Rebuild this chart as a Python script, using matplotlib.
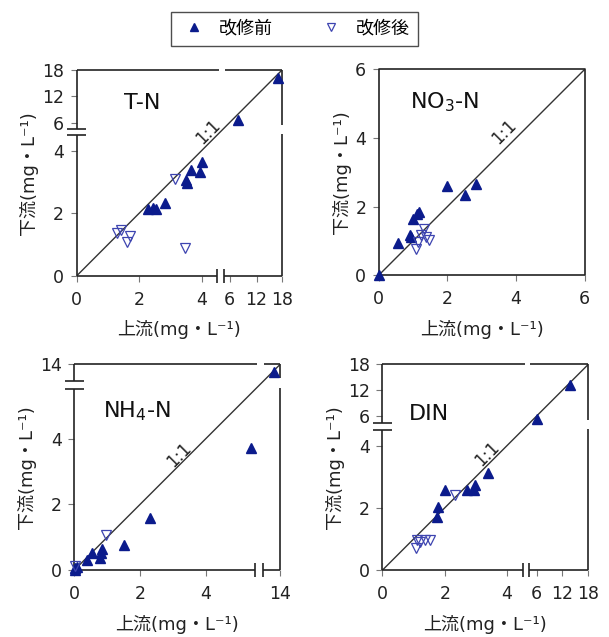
import numpy as np
import matplotlib
matplotlib.use("Agg")
import matplotlib.pyplot as plt
from matplotlib.lines import Line2D

plt.rcParams['font.family'] = ['DejaVu Sans', 'Noto Sans CJK JP']

# --- data (upstream, downstream) in mg/L ---
tn_before_x = [2.30, 2.45, 2.55, 2.84, 3.49, 3.55, 3.65, 3.96, 4.00, 7.9, 17.0]
tn_before_y = [2.15, 2.17, 2.15, 2.32, 3.06, 2.96, 3.37, 3.31, 3.63, 6.6, 16.2]
tn_after_x = [1.30, 1.43, 1.60, 1.70, 3.16, 3.47]
tn_after_y = [1.38, 1.46, 1.08, 1.27, 3.10, 0.89]

no3_before_x = [0.0, 0.56, 0.90, 0.95, 1.00, 1.11, 1.17, 2.00, 2.52, 2.84]
no3_before_y = [0.0, 0.95, 1.17, 1.12, 1.65, 1.77, 1.84, 2.60, 2.33, 2.67]
no3_after_x = [1.08, 1.14, 1.31, 1.39, 1.46, 1.24]
no3_after_y = [0.75, 0.97, 1.36, 1.12, 1.02, 1.17]

nh4_before_x = [0.02, 0.02, 0.07, 0.38, 0.53, 0.78, 0.81, 0.83, 1.51, 2.30, 5.36, 13.65]
nh4_before_y = [0.0, 0.05, 0.10, 0.32, 0.51, 0.36, 0.51, 0.63, 0.76, 1.57, 3.71, 13.55]
nh4_after_x = [0.02, 0.96]
nh4_after_y = [0.12, 1.07]

din_before_x = [1.74, 1.78, 2.00, 2.72, 2.93, 2.96, 3.39, 6.2, 13.7]
din_before_y = [1.71, 2.03, 2.57, 2.57, 2.57, 2.73, 3.12, 5.7, 13.2]
din_after_x = [1.11, 1.09, 1.22, 1.38, 1.54, 2.33]
din_after_y = [0.98, 0.70, 0.91, 0.98, 0.96, 2.41]

titles = ['T-N', r'NO$_3$-N', r'NH$_4$-N', 'DIN']
ticks_tn = [0, 2, 4, 6, 12, 18]
ticks_no3 = [0, 2, 4, 6]
ticks_nh4 = [0, 2, 4, 14]
ticks_din = [0, 2, 4, 6, 12, 18]
legend_labels = ['改修前', '改修後']

# broken-axis mappings: data value -> axes fraction
knots_tn = ([0, 4.5, 6, 12, 18], [0, 0.684, 0.745, 0.876, 1.0])
knots_no3 = ([0, 6], [0, 1.0])
knots_nh4 = ([0, 5.5, 13, 14], [0, 0.879, 0.918, 1.0])
knots_din = ([0, 4.5, 6, 12, 18], [0, 0.681, 0.749, 0.873, 1.0])

FILL = '#0b1b8c'
OPEN = '#3d44b0'

fig = plt.figure(figsize=(6.09, 6.37), dpi=100)

panels = [
    ([0.126, 0.567, 0.337, 0.323], knots_tn, ticks_tn, (tn_before_x, tn_before_y, tn_after_x, tn_after_y),
     (0.684, 0.716), (0.23, 0.84), (0.64, 0.70)),
    ([0.622, 0.568, 0.338, 0.323], knots_no3, ticks_no3, (no3_before_x, no3_before_y, no3_after_x, no3_after_y),
     None, (0.15, 0.84), (0.61, 0.695)),
    ([0.122, 0.105, 0.338, 0.323], knots_nh4, ticks_nh4, (nh4_before_x, nh4_before_y, nh4_after_x, nh4_after_y),
     (0.878, 0.918), (0.14, 0.77), (0.51, 0.56)),
    ([0.628, 0.105, 0.338, 0.323], knots_din, ticks_din, (din_before_x, din_before_y, din_after_x, din_after_y),
     (0.681, 0.714), (0.13, 0.76), (0.51, 0.566)),
]

for i, (rect, knots, ticks, dat, brk, tpos, lpos) in enumerate(panels):
    ax = fig.add_axes(rect)
    kd, kf = knots

    def fwd(v, kd=kd, kf=kf):
        return np.interp(v, kd, kf)

    def inv(v, kd=kd, kf=kf):
        return np.interp(v, kf, kd)

    ax.set_xscale('function', functions=(fwd, inv))
    ax.set_yscale('function', functions=(fwd, inv))
    top = kd[-1]
    ax.set_xlim(0, top)
    ax.set_ylim(0, top)

    # 1:1 line
    ax.plot([0, top], [0, top], color='#333333', lw=1.0, zorder=2)
    bx, by, axx, ayy = dat
    ax.plot(bx, by, linestyle='none', marker='^', ms=7.5, color=FILL, zorder=3, clip_on=False)
    ax.plot(axx, ayy, linestyle='none', marker='v', ms=7.5, mfc='none', mec=OPEN, mew=0.9,
            zorder=3, clip_on=False)

    ax.set_xticks(ticks)
    ax.set_yticks(ticks)
    ax.set_xticklabels([str(t) for t in ticks])
    ax.set_yticklabels([str(t) for t in ticks])
    ax.minorticks_off()
    ax.tick_params(direction='out', length=4, width=0.8, color='#777777', labelsize=12.5,
                   labelcolor='#222222')
    ax.tick_params(axis='x', pad=7)
    ax.tick_params(axis='y', pad=5)

    for s in ax.spines.values():
        s.set_visible(False)
    lk = dict(color='#222222', lw=1.2, transform=ax.transAxes, clip_on=False, solid_capstyle='butt')
    if brk is None:
        ax.plot([0, 1, 1, 0, 0], [0, 0, 1, 1, 0], **lk)
    else:
        b1, b2 = brk
        # bottom and left spines with break marks
        ax.plot([0, b1], [0, 0], **lk)
        ax.plot([b2, 1], [0, 0], **lk)
        ax.plot([0, 0], [0, b1], **lk)
        ax.plot([0, 0], [b2, 1], **lk)
        for b in brk:
            ax.plot([b, b], [-0.035, 0.035], **lk)
            ax.plot([-0.045, 0.045], [b, b], **lk)
        # top and right spines with gaps
        ax.plot([0, b1 + 0.01], [1, 1], **lk)
        ax.plot([b2 + 0.005, 1], [1, 1], **lk)
        ax.plot([1, 1], [0, b1 + 0.005], **lk)
        ax.plot([1, 1], [b2 + 0.015, 1], **lk)

    ax.text(tpos[0], tpos[1], titles[i], transform=ax.transAxes, fontsize=16,
            ha='left', va='center', color='#111111')
    ax.text(lpos[0], lpos[1], '1:1', transform=ax.transAxes, fontsize=12, rotation=45,
            ha='center', va='center', rotation_mode='anchor', color='#222222')
    ax.set_xlabel('上流(mg・L⁻¹)', fontsize=13, color='#222222', labelpad=8)
    ax.set_ylabel('下流(mg・L⁻¹)', fontsize=13, color='#222222', labelpad=3)

handles = [
    Line2D([], [], linestyle='none', marker='^', ms=7, color=FILL),
    Line2D([], [], linestyle='none', marker='v', ms=7, mfc='none', mec=OPEN, mew=0.9),
]
leg = fig.legend(handles, legend_labels, loc='center', bbox_to_anchor=(0.484, 0.955), ncol=2,
                 fontsize=13, frameon=True, fancybox=False, edgecolor='#222222',
                 handlelength=1.6, handletextpad=0.6, columnspacing=2.4, borderpad=0.45,
                 markerscale=0.75)
leg.get_frame().set_linewidth(1.0)

fig.savefig('out.png', dpi=100)
